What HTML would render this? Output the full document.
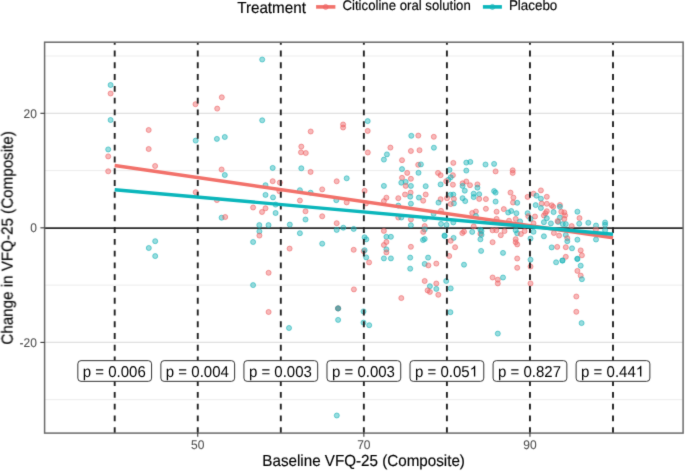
<!DOCTYPE html><html><head><meta charset="utf-8"><style>
html,body{margin:0;padding:0;background:#fff;}
text{stroke:currentColor;stroke-width:0.15px;}
svg{display:block;font-family:"Liberation Sans",sans-serif;text-rendering:geometricPrecision;}
</style></head><body>
<svg width="685" height="471" viewBox="0 0 685 471">
<defs><filter id="soft" filterUnits="userSpaceOnUse" x="0" y="0" width="685" height="471" color-interpolation-filters="sRGB"><feConvolveMatrix order="5" kernelMatrix="0.00000 0.00003 0.00021 0.00003 0.00000 0.00003 0.01133 0.08373 0.01133 0.00003 0.00021 0.08373 0.61869 0.08373 0.00021 0.00003 0.01133 0.08373 0.01133 0.00003 0.00000 0.00003 0.00021 0.00003 0.00000" edgeMode="duplicate" preserveAlpha="true"/></filter></defs>
<g filter="url(#soft)">
<rect x="0" y="0" width="685" height="471" fill="#fff"/>
<line x1="44.6" x2="683.1" y1="399.67" y2="399.67" stroke="#EAEAEA" stroke-width="0.9"/>
<line x1="44.6" x2="683.1" y1="285.12" y2="285.12" stroke="#EAEAEA" stroke-width="0.9"/>
<line x1="44.6" x2="683.1" y1="170.57" y2="170.57" stroke="#EAEAEA" stroke-width="0.9"/>
<line x1="44.6" x2="683.1" y1="56.03" y2="56.03" stroke="#EAEAEA" stroke-width="0.9"/>
<line x1="44.6" x2="683.1" y1="342.40" y2="342.40" stroke="#E0E0E0" stroke-width="1.3"/>
<line x1="44.6" x2="683.1" y1="113.30" y2="113.30" stroke="#E0E0E0" stroke-width="1.3"/>
<line x1="44.6" x2="683.1" y1="228.1" y2="228.1" stroke="#2a2a2a" stroke-width="1.7"/>
<circle cx="110.6" cy="85.0" r="2.5" fill="#1AB3B8" fill-opacity="0.45" stroke="#1AB3B8" stroke-opacity="0.6" stroke-width="1.0"/>
<circle cx="110.6" cy="93.5" r="2.5" fill="#EE6466" fill-opacity="0.45" stroke="#EE6466" stroke-opacity="0.6" stroke-width="1.0"/>
<circle cx="110.6" cy="120.0" r="2.5" fill="#1AB3B8" fill-opacity="0.45" stroke="#1AB3B8" stroke-opacity="0.6" stroke-width="1.0"/>
<circle cx="195.5" cy="104.2" r="2.5" fill="#EE6466" fill-opacity="0.45" stroke="#EE6466" stroke-opacity="0.6" stroke-width="1.0"/>
<circle cx="262.2" cy="59.5" r="2.5" fill="#1AB3B8" fill-opacity="0.45" stroke="#1AB3B8" stroke-opacity="0.6" stroke-width="1.0"/>
<circle cx="221.8" cy="97.3" r="2.5" fill="#EE6466" fill-opacity="0.45" stroke="#EE6466" stroke-opacity="0.6" stroke-width="1.0"/>
<circle cx="217.2" cy="108.6" r="2.5" fill="#EE6466" fill-opacity="0.45" stroke="#EE6466" stroke-opacity="0.6" stroke-width="1.0"/>
<circle cx="262.2" cy="120.3" r="2.5" fill="#1AB3B8" fill-opacity="0.45" stroke="#1AB3B8" stroke-opacity="0.6" stroke-width="1.0"/>
<circle cx="343.1" cy="124.5" r="2.5" fill="#EE6466" fill-opacity="0.45" stroke="#EE6466" stroke-opacity="0.6" stroke-width="1.0"/>
<circle cx="343.1" cy="127.5" r="2.5" fill="#EE6466" fill-opacity="0.45" stroke="#EE6466" stroke-opacity="0.6" stroke-width="1.0"/>
<circle cx="367.7" cy="121.1" r="2.5" fill="#1AB3B8" fill-opacity="0.45" stroke="#1AB3B8" stroke-opacity="0.6" stroke-width="1.0"/>
<circle cx="148.7" cy="130.0" r="2.5" fill="#EE6466" fill-opacity="0.45" stroke="#EE6466" stroke-opacity="0.6" stroke-width="1.0"/>
<circle cx="108.2" cy="149.4" r="2.5" fill="#1AB3B8" fill-opacity="0.45" stroke="#1AB3B8" stroke-opacity="0.6" stroke-width="1.0"/>
<circle cx="108.2" cy="156.4" r="2.5" fill="#EE6466" fill-opacity="0.45" stroke="#EE6466" stroke-opacity="0.6" stroke-width="1.0"/>
<circle cx="148.7" cy="149.0" r="2.5" fill="#EE6466" fill-opacity="0.45" stroke="#EE6466" stroke-opacity="0.6" stroke-width="1.0"/>
<circle cx="155.1" cy="166.0" r="2.5" fill="#EE6466" fill-opacity="0.45" stroke="#EE6466" stroke-opacity="0.6" stroke-width="1.0"/>
<circle cx="108.2" cy="171.3" r="2.5" fill="#EE6466" fill-opacity="0.45" stroke="#EE6466" stroke-opacity="0.6" stroke-width="1.0"/>
<circle cx="155.2" cy="241.2" r="2.5" fill="#1AB3B8" fill-opacity="0.45" stroke="#1AB3B8" stroke-opacity="0.6" stroke-width="1.0"/>
<circle cx="148.8" cy="248.0" r="2.5" fill="#1AB3B8" fill-opacity="0.45" stroke="#1AB3B8" stroke-opacity="0.6" stroke-width="1.0"/>
<circle cx="155.2" cy="256.1" r="2.5" fill="#1AB3B8" fill-opacity="0.45" stroke="#1AB3B8" stroke-opacity="0.6" stroke-width="1.0"/>
<circle cx="195.7" cy="140.6" r="2.5" fill="#1AB3B8" fill-opacity="0.45" stroke="#1AB3B8" stroke-opacity="0.6" stroke-width="1.0"/>
<circle cx="216.9" cy="138.9" r="2.5" fill="#1AB3B8" fill-opacity="0.45" stroke="#1AB3B8" stroke-opacity="0.6" stroke-width="1.0"/>
<circle cx="224.8" cy="137.0" r="2.5" fill="#1AB3B8" fill-opacity="0.45" stroke="#1AB3B8" stroke-opacity="0.6" stroke-width="1.0"/>
<circle cx="221.6" cy="169.5" r="2.5" fill="#EE6466" fill-opacity="0.45" stroke="#EE6466" stroke-opacity="0.6" stroke-width="1.0"/>
<circle cx="224.8" cy="175.0" r="2.5" fill="#1AB3B8" fill-opacity="0.45" stroke="#1AB3B8" stroke-opacity="0.6" stroke-width="1.0"/>
<circle cx="195.7" cy="192.2" r="2.5" fill="#EE6466" fill-opacity="0.45" stroke="#EE6466" stroke-opacity="0.6" stroke-width="1.0"/>
<circle cx="216.9" cy="200.1" r="2.5" fill="#EE6466" fill-opacity="0.45" stroke="#EE6466" stroke-opacity="0.6" stroke-width="1.0"/>
<circle cx="221.6" cy="217.7" r="2.5" fill="#1AB3B8" fill-opacity="0.45" stroke="#1AB3B8" stroke-opacity="0.6" stroke-width="1.0"/>
<circle cx="225.2" cy="217.0" r="2.5" fill="#EE6466" fill-opacity="0.45" stroke="#EE6466" stroke-opacity="0.6" stroke-width="1.0"/>
<circle cx="272.7" cy="167.9" r="2.5" fill="#1AB3B8" fill-opacity="0.45" stroke="#1AB3B8" stroke-opacity="0.6" stroke-width="1.0"/>
<circle cx="272.7" cy="181.2" r="2.5" fill="#EE6466" fill-opacity="0.45" stroke="#EE6466" stroke-opacity="0.6" stroke-width="1.0"/>
<circle cx="279.8" cy="182.6" r="2.5" fill="#EE6466" fill-opacity="0.45" stroke="#EE6466" stroke-opacity="0.6" stroke-width="1.0"/>
<circle cx="265.5" cy="185.2" r="2.5" fill="#1AB3B8" fill-opacity="0.45" stroke="#1AB3B8" stroke-opacity="0.6" stroke-width="1.0"/>
<circle cx="279.4" cy="191.2" r="2.5" fill="#EE6466" fill-opacity="0.45" stroke="#EE6466" stroke-opacity="0.6" stroke-width="1.0"/>
<circle cx="265.5" cy="194.9" r="2.5" fill="#1AB3B8" fill-opacity="0.45" stroke="#1AB3B8" stroke-opacity="0.6" stroke-width="1.0"/>
<circle cx="273.0" cy="197.4" r="2.5" fill="#1AB3B8" fill-opacity="0.45" stroke="#1AB3B8" stroke-opacity="0.6" stroke-width="1.0"/>
<circle cx="275.6" cy="204.6" r="2.5" fill="#1AB3B8" fill-opacity="0.45" stroke="#1AB3B8" stroke-opacity="0.6" stroke-width="1.0"/>
<circle cx="253.1" cy="207.5" r="2.5" fill="#EE6466" fill-opacity="0.45" stroke="#EE6466" stroke-opacity="0.6" stroke-width="1.0"/>
<circle cx="265.5" cy="208.3" r="2.5" fill="#EE6466" fill-opacity="0.45" stroke="#EE6466" stroke-opacity="0.6" stroke-width="1.0"/>
<circle cx="262.0" cy="212.0" r="2.5" fill="#EE6466" fill-opacity="0.45" stroke="#EE6466" stroke-opacity="0.6" stroke-width="1.0"/>
<circle cx="275.6" cy="213.0" r="2.5" fill="#1AB3B8" fill-opacity="0.45" stroke="#1AB3B8" stroke-opacity="0.6" stroke-width="1.0"/>
<circle cx="259.3" cy="225.1" r="2.5" fill="#1AB3B8" fill-opacity="0.45" stroke="#1AB3B8" stroke-opacity="0.6" stroke-width="1.0"/>
<circle cx="268.5" cy="225.1" r="2.5" fill="#1AB3B8" fill-opacity="0.45" stroke="#1AB3B8" stroke-opacity="0.6" stroke-width="1.0"/>
<circle cx="259.4" cy="231.4" r="2.5" fill="#1AB3B8" fill-opacity="0.45" stroke="#1AB3B8" stroke-opacity="0.6" stroke-width="1.0"/>
<circle cx="259.4" cy="235.6" r="2.5" fill="#EE6466" fill-opacity="0.45" stroke="#EE6466" stroke-opacity="0.6" stroke-width="1.0"/>
<circle cx="253.1" cy="242.0" r="2.5" fill="#1AB3B8" fill-opacity="0.45" stroke="#1AB3B8" stroke-opacity="0.6" stroke-width="1.0"/>
<circle cx="268.6" cy="272.8" r="2.5" fill="#EE6466" fill-opacity="0.45" stroke="#EE6466" stroke-opacity="0.6" stroke-width="1.0"/>
<circle cx="253.1" cy="285.1" r="2.5" fill="#1AB3B8" fill-opacity="0.45" stroke="#1AB3B8" stroke-opacity="0.6" stroke-width="1.0"/>
<circle cx="268.6" cy="312.0" r="2.5" fill="#EE6466" fill-opacity="0.45" stroke="#EE6466" stroke-opacity="0.6" stroke-width="1.0"/>
<circle cx="310.7" cy="131.5" r="2.5" fill="#EE6466" fill-opacity="0.45" stroke="#EE6466" stroke-opacity="0.6" stroke-width="1.0"/>
<circle cx="301.3" cy="146.6" r="2.5" fill="#EE6466" fill-opacity="0.45" stroke="#EE6466" stroke-opacity="0.6" stroke-width="1.0"/>
<circle cx="301.0" cy="152.3" r="2.5" fill="#EE6466" fill-opacity="0.45" stroke="#EE6466" stroke-opacity="0.6" stroke-width="1.0"/>
<circle cx="305.8" cy="153.0" r="2.5" fill="#EE6466" fill-opacity="0.45" stroke="#EE6466" stroke-opacity="0.6" stroke-width="1.0"/>
<circle cx="301.3" cy="168.3" r="2.5" fill="#1AB3B8" fill-opacity="0.45" stroke="#1AB3B8" stroke-opacity="0.6" stroke-width="1.0"/>
<circle cx="310.6" cy="171.9" r="2.5" fill="#EE6466" fill-opacity="0.45" stroke="#EE6466" stroke-opacity="0.6" stroke-width="1.0"/>
<circle cx="346.7" cy="178.3" r="2.5" fill="#1AB3B8" fill-opacity="0.45" stroke="#1AB3B8" stroke-opacity="0.6" stroke-width="1.0"/>
<circle cx="336.7" cy="181.3" r="2.5" fill="#EE6466" fill-opacity="0.45" stroke="#EE6466" stroke-opacity="0.6" stroke-width="1.0"/>
<circle cx="322.2" cy="189.4" r="2.5" fill="#EE6466" fill-opacity="0.45" stroke="#EE6466" stroke-opacity="0.6" stroke-width="1.0"/>
<circle cx="299.9" cy="190.2" r="2.5" fill="#1AB3B8" fill-opacity="0.45" stroke="#1AB3B8" stroke-opacity="0.6" stroke-width="1.0"/>
<circle cx="310.6" cy="192.7" r="2.5" fill="#1AB3B8" fill-opacity="0.45" stroke="#1AB3B8" stroke-opacity="0.6" stroke-width="1.0"/>
<circle cx="299.9" cy="200.5" r="2.5" fill="#EE6466" fill-opacity="0.45" stroke="#EE6466" stroke-opacity="0.6" stroke-width="1.0"/>
<circle cx="336.3" cy="200.2" r="2.5" fill="#1AB3B8" fill-opacity="0.45" stroke="#1AB3B8" stroke-opacity="0.6" stroke-width="1.0"/>
<circle cx="346.7" cy="202.4" r="2.5" fill="#EE6466" fill-opacity="0.45" stroke="#EE6466" stroke-opacity="0.6" stroke-width="1.0"/>
<circle cx="305.5" cy="211.3" r="2.5" fill="#EE6466" fill-opacity="0.45" stroke="#EE6466" stroke-opacity="0.6" stroke-width="1.0"/>
<circle cx="322.2" cy="216.3" r="2.5" fill="#EE6466" fill-opacity="0.45" stroke="#EE6466" stroke-opacity="0.6" stroke-width="1.0"/>
<circle cx="305.5" cy="219.5" r="2.5" fill="#1AB3B8" fill-opacity="0.45" stroke="#1AB3B8" stroke-opacity="0.6" stroke-width="1.0"/>
<circle cx="289.8" cy="224.6" r="2.5" fill="#1AB3B8" fill-opacity="0.45" stroke="#1AB3B8" stroke-opacity="0.6" stroke-width="1.0"/>
<circle cx="336.7" cy="223.2" r="2.5" fill="#EE6466" fill-opacity="0.45" stroke="#EE6466" stroke-opacity="0.6" stroke-width="1.0"/>
<circle cx="336.7" cy="229.9" r="2.5" fill="#1AB3B8" fill-opacity="0.45" stroke="#1AB3B8" stroke-opacity="0.6" stroke-width="1.0"/>
<circle cx="343.3" cy="227.7" r="2.5" fill="#1AB3B8" fill-opacity="0.45" stroke="#1AB3B8" stroke-opacity="0.6" stroke-width="1.0"/>
<circle cx="299.9" cy="233.2" r="2.5" fill="#1AB3B8" fill-opacity="0.45" stroke="#1AB3B8" stroke-opacity="0.6" stroke-width="1.0"/>
<circle cx="322.2" cy="243.7" r="2.5" fill="#1AB3B8" fill-opacity="0.45" stroke="#1AB3B8" stroke-opacity="0.6" stroke-width="1.0"/>
<circle cx="289.6" cy="248.6" r="2.5" fill="#EE6466" fill-opacity="0.45" stroke="#EE6466" stroke-opacity="0.6" stroke-width="1.0"/>
<circle cx="338.1" cy="308.4" r="2.5" fill="#EE6466" fill-opacity="0.45" stroke="#EE6466" stroke-opacity="0.6" stroke-width="1.0"/>
<circle cx="338.1" cy="308.4" r="2.5" fill="#1AB3B8" fill-opacity="0.45" stroke="#1AB3B8" stroke-opacity="0.6" stroke-width="1.0"/>
<circle cx="338.1" cy="308.4" r="2.5" fill="#EE6466" fill-opacity="0.45" stroke="#EE6466" stroke-opacity="0.6" stroke-width="1.0"/>
<circle cx="338.1" cy="308.4" r="2.5" fill="#1AB3B8" fill-opacity="0.45" stroke="#1AB3B8" stroke-opacity="0.6" stroke-width="1.0"/>
<circle cx="338.1" cy="319.9" r="2.5" fill="#1AB3B8" fill-opacity="0.45" stroke="#1AB3B8" stroke-opacity="0.6" stroke-width="1.0"/>
<circle cx="289.0" cy="328.0" r="2.5" fill="#1AB3B8" fill-opacity="0.45" stroke="#1AB3B8" stroke-opacity="0.6" stroke-width="1.0"/>
<circle cx="336.8" cy="415.5" r="2.5" fill="#1AB3B8" fill-opacity="0.45" stroke="#1AB3B8" stroke-opacity="0.6" stroke-width="1.0"/>
<circle cx="367.7" cy="130.9" r="2.5" fill="#EE6466" fill-opacity="0.45" stroke="#EE6466" stroke-opacity="0.6" stroke-width="1.0"/>
<circle cx="411.3" cy="135.8" r="2.5" fill="#1AB3B8" fill-opacity="0.45" stroke="#1AB3B8" stroke-opacity="0.6" stroke-width="1.0"/>
<circle cx="418.3" cy="135.6" r="2.5" fill="#EE6466" fill-opacity="0.45" stroke="#EE6466" stroke-opacity="0.6" stroke-width="1.0"/>
<circle cx="433.8" cy="136.8" r="2.5" fill="#EE6466" fill-opacity="0.45" stroke="#EE6466" stroke-opacity="0.6" stroke-width="1.0"/>
<circle cx="390.4" cy="147.6" r="2.5" fill="#EE6466" fill-opacity="0.45" stroke="#EE6466" stroke-opacity="0.6" stroke-width="1.0"/>
<circle cx="410.9" cy="151.0" r="2.5" fill="#EE6466" fill-opacity="0.45" stroke="#EE6466" stroke-opacity="0.6" stroke-width="1.0"/>
<circle cx="419.5" cy="150.2" r="2.5" fill="#EE6466" fill-opacity="0.45" stroke="#EE6466" stroke-opacity="0.6" stroke-width="1.0"/>
<circle cx="367.8" cy="152.5" r="2.5" fill="#EE6466" fill-opacity="0.45" stroke="#EE6466" stroke-opacity="0.6" stroke-width="1.0"/>
<circle cx="386.9" cy="154.4" r="2.5" fill="#1AB3B8" fill-opacity="0.45" stroke="#1AB3B8" stroke-opacity="0.6" stroke-width="1.0"/>
<circle cx="383.9" cy="159.6" r="2.5" fill="#1AB3B8" fill-opacity="0.45" stroke="#1AB3B8" stroke-opacity="0.6" stroke-width="1.0"/>
<circle cx="402.0" cy="160.2" r="2.5" fill="#EE6466" fill-opacity="0.45" stroke="#EE6466" stroke-opacity="0.6" stroke-width="1.0"/>
<circle cx="418.2" cy="164.8" r="2.5" fill="#EE6466" fill-opacity="0.45" stroke="#EE6466" stroke-opacity="0.6" stroke-width="1.0"/>
<circle cx="402.0" cy="169.1" r="2.5" fill="#1AB3B8" fill-opacity="0.45" stroke="#1AB3B8" stroke-opacity="0.6" stroke-width="1.0"/>
<circle cx="407.2" cy="172.9" r="2.5" fill="#EE6466" fill-opacity="0.45" stroke="#EE6466" stroke-opacity="0.6" stroke-width="1.0"/>
<circle cx="418.5" cy="172.8" r="2.5" fill="#1AB3B8" fill-opacity="0.45" stroke="#1AB3B8" stroke-opacity="0.6" stroke-width="1.0"/>
<circle cx="402.0" cy="177.8" r="2.5" fill="#EE6466" fill-opacity="0.45" stroke="#EE6466" stroke-opacity="0.6" stroke-width="1.0"/>
<circle cx="410.9" cy="178.8" r="2.5" fill="#EE6466" fill-opacity="0.45" stroke="#EE6466" stroke-opacity="0.6" stroke-width="1.0"/>
<circle cx="401.3" cy="182.7" r="2.5" fill="#1AB3B8" fill-opacity="0.45" stroke="#1AB3B8" stroke-opacity="0.6" stroke-width="1.0"/>
<circle cx="405.7" cy="181.9" r="2.5" fill="#1AB3B8" fill-opacity="0.45" stroke="#1AB3B8" stroke-opacity="0.6" stroke-width="1.0"/>
<circle cx="405.7" cy="185.9" r="2.5" fill="#EE6466" fill-opacity="0.45" stroke="#EE6466" stroke-opacity="0.6" stroke-width="1.0"/>
<circle cx="410.9" cy="185.9" r="2.5" fill="#1AB3B8" fill-opacity="0.45" stroke="#1AB3B8" stroke-opacity="0.6" stroke-width="1.0"/>
<circle cx="383.9" cy="185.9" r="2.5" fill="#1AB3B8" fill-opacity="0.45" stroke="#1AB3B8" stroke-opacity="0.6" stroke-width="1.0"/>
<circle cx="364.6" cy="190.8" r="2.5" fill="#EE6466" fill-opacity="0.45" stroke="#EE6466" stroke-opacity="0.6" stroke-width="1.0"/>
<circle cx="410.6" cy="192.6" r="2.5" fill="#EE6466" fill-opacity="0.45" stroke="#EE6466" stroke-opacity="0.6" stroke-width="1.0"/>
<circle cx="405.0" cy="194.5" r="2.5" fill="#EE6466" fill-opacity="0.45" stroke="#EE6466" stroke-opacity="0.6" stroke-width="1.0"/>
<circle cx="386.4" cy="197.7" r="2.5" fill="#EE6466" fill-opacity="0.45" stroke="#EE6466" stroke-opacity="0.6" stroke-width="1.0"/>
<circle cx="383.9" cy="201.1" r="2.5" fill="#EE6466" fill-opacity="0.45" stroke="#EE6466" stroke-opacity="0.6" stroke-width="1.0"/>
<circle cx="398.3" cy="198.2" r="2.5" fill="#EE6466" fill-opacity="0.45" stroke="#EE6466" stroke-opacity="0.6" stroke-width="1.0"/>
<circle cx="410.2" cy="196.7" r="2.5" fill="#1AB3B8" fill-opacity="0.45" stroke="#1AB3B8" stroke-opacity="0.6" stroke-width="1.0"/>
<circle cx="410.9" cy="203.7" r="2.5" fill="#1AB3B8" fill-opacity="0.45" stroke="#1AB3B8" stroke-opacity="0.6" stroke-width="1.0"/>
<circle cx="418.9" cy="197.6" r="2.5" fill="#1AB3B8" fill-opacity="0.45" stroke="#1AB3B8" stroke-opacity="0.6" stroke-width="1.0"/>
<circle cx="366.0" cy="203.4" r="2.5" fill="#EE6466" fill-opacity="0.45" stroke="#EE6466" stroke-opacity="0.6" stroke-width="1.0"/>
<circle cx="398.3" cy="205.6" r="2.5" fill="#1AB3B8" fill-opacity="0.45" stroke="#1AB3B8" stroke-opacity="0.6" stroke-width="1.0"/>
<circle cx="398.3" cy="217.5" r="2.5" fill="#EE6466" fill-opacity="0.45" stroke="#EE6466" stroke-opacity="0.6" stroke-width="1.0"/>
<circle cx="401.3" cy="217.5" r="2.5" fill="#1AB3B8" fill-opacity="0.45" stroke="#1AB3B8" stroke-opacity="0.6" stroke-width="1.0"/>
<circle cx="410.9" cy="219.4" r="2.5" fill="#EE6466" fill-opacity="0.45" stroke="#EE6466" stroke-opacity="0.6" stroke-width="1.0"/>
<circle cx="410.9" cy="225.2" r="2.5" fill="#1AB3B8" fill-opacity="0.45" stroke="#1AB3B8" stroke-opacity="0.6" stroke-width="1.0"/>
<circle cx="353.7" cy="228.9" r="2.5" fill="#1AB3B8" fill-opacity="0.45" stroke="#1AB3B8" stroke-opacity="0.6" stroke-width="1.0"/>
<circle cx="383.9" cy="230.9" r="2.5" fill="#EE6466" fill-opacity="0.45" stroke="#EE6466" stroke-opacity="0.6" stroke-width="1.0"/>
<circle cx="364.6" cy="237.3" r="2.5" fill="#1AB3B8" fill-opacity="0.45" stroke="#1AB3B8" stroke-opacity="0.6" stroke-width="1.0"/>
<circle cx="366.3" cy="239.3" r="2.5" fill="#1AB3B8" fill-opacity="0.45" stroke="#1AB3B8" stroke-opacity="0.6" stroke-width="1.0"/>
<circle cx="386.4" cy="236.8" r="2.5" fill="#1AB3B8" fill-opacity="0.45" stroke="#1AB3B8" stroke-opacity="0.6" stroke-width="1.0"/>
<circle cx="390.9" cy="236.8" r="2.5" fill="#1AB3B8" fill-opacity="0.45" stroke="#1AB3B8" stroke-opacity="0.6" stroke-width="1.0"/>
<circle cx="386.4" cy="242.0" r="2.5" fill="#EE6466" fill-opacity="0.45" stroke="#EE6466" stroke-opacity="0.6" stroke-width="1.0"/>
<circle cx="383.9" cy="245.0" r="2.5" fill="#EE6466" fill-opacity="0.45" stroke="#EE6466" stroke-opacity="0.6" stroke-width="1.0"/>
<circle cx="353.7" cy="249.8" r="2.5" fill="#EE6466" fill-opacity="0.45" stroke="#EE6466" stroke-opacity="0.6" stroke-width="1.0"/>
<circle cx="363.7" cy="251.2" r="2.5" fill="#EE6466" fill-opacity="0.45" stroke="#EE6466" stroke-opacity="0.6" stroke-width="1.0"/>
<circle cx="364.6" cy="250.2" r="2.5" fill="#1AB3B8" fill-opacity="0.45" stroke="#1AB3B8" stroke-opacity="0.6" stroke-width="1.0"/>
<circle cx="386.4" cy="249.4" r="2.5" fill="#1AB3B8" fill-opacity="0.45" stroke="#1AB3B8" stroke-opacity="0.6" stroke-width="1.0"/>
<circle cx="386.4" cy="252.4" r="2.5" fill="#EE6466" fill-opacity="0.45" stroke="#EE6466" stroke-opacity="0.6" stroke-width="1.0"/>
<circle cx="410.9" cy="246.8" r="2.5" fill="#EE6466" fill-opacity="0.45" stroke="#EE6466" stroke-opacity="0.6" stroke-width="1.0"/>
<circle cx="366.2" cy="257.4" r="2.5" fill="#1AB3B8" fill-opacity="0.45" stroke="#1AB3B8" stroke-opacity="0.6" stroke-width="1.0"/>
<circle cx="383.9" cy="258.4" r="2.5" fill="#1AB3B8" fill-opacity="0.45" stroke="#1AB3B8" stroke-opacity="0.6" stroke-width="1.0"/>
<circle cx="390.9" cy="258.4" r="2.5" fill="#1AB3B8" fill-opacity="0.45" stroke="#1AB3B8" stroke-opacity="0.6" stroke-width="1.0"/>
<circle cx="410.2" cy="257.6" r="2.5" fill="#1AB3B8" fill-opacity="0.45" stroke="#1AB3B8" stroke-opacity="0.6" stroke-width="1.0"/>
<circle cx="410.2" cy="268.7" r="2.5" fill="#1AB3B8" fill-opacity="0.45" stroke="#1AB3B8" stroke-opacity="0.6" stroke-width="1.0"/>
<circle cx="369.1" cy="262.4" r="2.5" fill="#EE6466" fill-opacity="0.45" stroke="#EE6466" stroke-opacity="0.6" stroke-width="1.0"/>
<circle cx="353.9" cy="289.4" r="2.5" fill="#EE6466" fill-opacity="0.45" stroke="#EE6466" stroke-opacity="0.6" stroke-width="1.0"/>
<circle cx="401.3" cy="298.1" r="2.5" fill="#EE6466" fill-opacity="0.45" stroke="#EE6466" stroke-opacity="0.6" stroke-width="1.0"/>
<circle cx="363.5" cy="311.4" r="2.5" fill="#1AB3B8" fill-opacity="0.45" stroke="#1AB3B8" stroke-opacity="0.6" stroke-width="1.0"/>
<circle cx="363.5" cy="322.6" r="2.5" fill="#1AB3B8" fill-opacity="0.45" stroke="#1AB3B8" stroke-opacity="0.6" stroke-width="1.0"/>
<circle cx="369.2" cy="325.2" r="2.5" fill="#1AB3B8" fill-opacity="0.45" stroke="#1AB3B8" stroke-opacity="0.6" stroke-width="1.0"/>
<circle cx="433.9" cy="147.7" r="2.5" fill="#1AB3B8" fill-opacity="0.45" stroke="#1AB3B8" stroke-opacity="0.6" stroke-width="1.0"/>
<circle cx="420.9" cy="164.4" r="2.5" fill="#1AB3B8" fill-opacity="0.45" stroke="#1AB3B8" stroke-opacity="0.6" stroke-width="1.0"/>
<circle cx="438.0" cy="172.9" r="2.5" fill="#EE6466" fill-opacity="0.45" stroke="#EE6466" stroke-opacity="0.6" stroke-width="1.0"/>
<circle cx="440.6" cy="175.2" r="2.5" fill="#EE6466" fill-opacity="0.45" stroke="#EE6466" stroke-opacity="0.6" stroke-width="1.0"/>
<circle cx="425.7" cy="186.2" r="2.5" fill="#1AB3B8" fill-opacity="0.45" stroke="#1AB3B8" stroke-opacity="0.6" stroke-width="1.0"/>
<circle cx="440.6" cy="184.4" r="2.5" fill="#1AB3B8" fill-opacity="0.45" stroke="#1AB3B8" stroke-opacity="0.6" stroke-width="1.0"/>
<circle cx="425.7" cy="194.5" r="2.5" fill="#EE6466" fill-opacity="0.45" stroke="#EE6466" stroke-opacity="0.6" stroke-width="1.0"/>
<circle cx="453.3" cy="162.9" r="2.5" fill="#EE6466" fill-opacity="0.45" stroke="#EE6466" stroke-opacity="0.6" stroke-width="1.0"/>
<circle cx="466.3" cy="162.6" r="2.5" fill="#1AB3B8" fill-opacity="0.45" stroke="#1AB3B8" stroke-opacity="0.6" stroke-width="1.0"/>
<circle cx="470.3" cy="161.9" r="2.5" fill="#1AB3B8" fill-opacity="0.45" stroke="#1AB3B8" stroke-opacity="0.6" stroke-width="1.0"/>
<circle cx="449.5" cy="169.9" r="2.5" fill="#1AB3B8" fill-opacity="0.45" stroke="#1AB3B8" stroke-opacity="0.6" stroke-width="1.0"/>
<circle cx="466.3" cy="170.6" r="2.5" fill="#1AB3B8" fill-opacity="0.45" stroke="#1AB3B8" stroke-opacity="0.6" stroke-width="1.0"/>
<circle cx="452.9" cy="175.2" r="2.5" fill="#EE6466" fill-opacity="0.45" stroke="#EE6466" stroke-opacity="0.6" stroke-width="1.0"/>
<circle cx="450.7" cy="177.3" r="2.5" fill="#1AB3B8" fill-opacity="0.45" stroke="#1AB3B8" stroke-opacity="0.6" stroke-width="1.0"/>
<circle cx="448.4" cy="179.7" r="2.5" fill="#1AB3B8" fill-opacity="0.45" stroke="#1AB3B8" stroke-opacity="0.6" stroke-width="1.0"/>
<circle cx="446.2" cy="181.2" r="2.5" fill="#EE6466" fill-opacity="0.45" stroke="#EE6466" stroke-opacity="0.6" stroke-width="1.0"/>
<circle cx="452.9" cy="184.7" r="2.5" fill="#EE6466" fill-opacity="0.45" stroke="#EE6466" stroke-opacity="0.6" stroke-width="1.0"/>
<circle cx="462.6" cy="183.3" r="2.5" fill="#EE6466" fill-opacity="0.45" stroke="#EE6466" stroke-opacity="0.6" stroke-width="1.0"/>
<circle cx="466.3" cy="181.5" r="2.5" fill="#EE6466" fill-opacity="0.45" stroke="#EE6466" stroke-opacity="0.6" stroke-width="1.0"/>
<circle cx="462.6" cy="185.9" r="2.5" fill="#1AB3B8" fill-opacity="0.45" stroke="#1AB3B8" stroke-opacity="0.6" stroke-width="1.0"/>
<circle cx="470.0" cy="185.2" r="2.5" fill="#EE6466" fill-opacity="0.45" stroke="#EE6466" stroke-opacity="0.6" stroke-width="1.0"/>
<circle cx="477.4" cy="184.4" r="2.5" fill="#EE6466" fill-opacity="0.45" stroke="#EE6466" stroke-opacity="0.6" stroke-width="1.0"/>
<circle cx="477.4" cy="187.7" r="2.5" fill="#1AB3B8" fill-opacity="0.45" stroke="#1AB3B8" stroke-opacity="0.6" stroke-width="1.0"/>
<circle cx="464.8" cy="190.7" r="2.5" fill="#1AB3B8" fill-opacity="0.45" stroke="#1AB3B8" stroke-opacity="0.6" stroke-width="1.0"/>
<circle cx="473.7" cy="193.7" r="2.5" fill="#1AB3B8" fill-opacity="0.45" stroke="#1AB3B8" stroke-opacity="0.6" stroke-width="1.0"/>
<circle cx="479.2" cy="194.2" r="2.5" fill="#1AB3B8" fill-opacity="0.45" stroke="#1AB3B8" stroke-opacity="0.6" stroke-width="1.0"/>
<circle cx="453.3" cy="194.6" r="2.5" fill="#1AB3B8" fill-opacity="0.45" stroke="#1AB3B8" stroke-opacity="0.6" stroke-width="1.0"/>
<circle cx="450.5" cy="194.8" r="2.5" fill="#1AB3B8" fill-opacity="0.45" stroke="#1AB3B8" stroke-opacity="0.6" stroke-width="1.0"/>
<circle cx="423.2" cy="200.7" r="2.5" fill="#EE6466" fill-opacity="0.45" stroke="#EE6466" stroke-opacity="0.6" stroke-width="1.0"/>
<circle cx="440.6" cy="199.2" r="2.5" fill="#EE6466" fill-opacity="0.45" stroke="#EE6466" stroke-opacity="0.6" stroke-width="1.0"/>
<circle cx="438.5" cy="202.6" r="2.5" fill="#1AB3B8" fill-opacity="0.45" stroke="#1AB3B8" stroke-opacity="0.6" stroke-width="1.0"/>
<circle cx="447.0" cy="198.2" r="2.5" fill="#EE6466" fill-opacity="0.45" stroke="#EE6466" stroke-opacity="0.6" stroke-width="1.0"/>
<circle cx="453.9" cy="198.9" r="2.5" fill="#EE6466" fill-opacity="0.45" stroke="#EE6466" stroke-opacity="0.6" stroke-width="1.0"/>
<circle cx="453.9" cy="203.4" r="2.5" fill="#1AB3B8" fill-opacity="0.45" stroke="#1AB3B8" stroke-opacity="0.6" stroke-width="1.0"/>
<circle cx="450.7" cy="204.1" r="2.5" fill="#EE6466" fill-opacity="0.45" stroke="#EE6466" stroke-opacity="0.6" stroke-width="1.0"/>
<circle cx="462.6" cy="198.2" r="2.5" fill="#1AB3B8" fill-opacity="0.45" stroke="#1AB3B8" stroke-opacity="0.6" stroke-width="1.0"/>
<circle cx="465.2" cy="201.1" r="2.5" fill="#1AB3B8" fill-opacity="0.45" stroke="#1AB3B8" stroke-opacity="0.6" stroke-width="1.0"/>
<circle cx="473.7" cy="197.1" r="2.5" fill="#1AB3B8" fill-opacity="0.45" stroke="#1AB3B8" stroke-opacity="0.6" stroke-width="1.0"/>
<circle cx="479.2" cy="198.9" r="2.5" fill="#EE6466" fill-opacity="0.45" stroke="#EE6466" stroke-opacity="0.6" stroke-width="1.0"/>
<circle cx="441.0" cy="210.8" r="2.5" fill="#EE6466" fill-opacity="0.45" stroke="#EE6466" stroke-opacity="0.6" stroke-width="1.0"/>
<circle cx="433.6" cy="213.8" r="2.5" fill="#1AB3B8" fill-opacity="0.45" stroke="#1AB3B8" stroke-opacity="0.6" stroke-width="1.0"/>
<circle cx="424.7" cy="219.0" r="2.5" fill="#1AB3B8" fill-opacity="0.45" stroke="#1AB3B8" stroke-opacity="0.6" stroke-width="1.0"/>
<circle cx="472.2" cy="213.0" r="2.5" fill="#EE6466" fill-opacity="0.45" stroke="#EE6466" stroke-opacity="0.6" stroke-width="1.0"/>
<circle cx="475.9" cy="211.5" r="2.5" fill="#EE6466" fill-opacity="0.45" stroke="#EE6466" stroke-opacity="0.6" stroke-width="1.0"/>
<circle cx="475.9" cy="216.0" r="2.5" fill="#1AB3B8" fill-opacity="0.45" stroke="#1AB3B8" stroke-opacity="0.6" stroke-width="1.0"/>
<circle cx="441.0" cy="223.9" r="2.5" fill="#1AB3B8" fill-opacity="0.45" stroke="#1AB3B8" stroke-opacity="0.6" stroke-width="1.0"/>
<circle cx="446.5" cy="224.9" r="2.5" fill="#1AB3B8" fill-opacity="0.45" stroke="#1AB3B8" stroke-opacity="0.6" stroke-width="1.0"/>
<circle cx="453.3" cy="222.4" r="2.5" fill="#1AB3B8" fill-opacity="0.45" stroke="#1AB3B8" stroke-opacity="0.6" stroke-width="1.0"/>
<circle cx="424.7" cy="226.1" r="2.5" fill="#EE6466" fill-opacity="0.45" stroke="#EE6466" stroke-opacity="0.6" stroke-width="1.0"/>
<circle cx="424.7" cy="229.4" r="2.5" fill="#1AB3B8" fill-opacity="0.45" stroke="#1AB3B8" stroke-opacity="0.6" stroke-width="1.0"/>
<circle cx="423.2" cy="231.9" r="2.5" fill="#EE6466" fill-opacity="0.45" stroke="#EE6466" stroke-opacity="0.6" stroke-width="1.0"/>
<circle cx="464.0" cy="231.6" r="2.5" fill="#EE6466" fill-opacity="0.45" stroke="#EE6466" stroke-opacity="0.6" stroke-width="1.0"/>
<circle cx="462.3" cy="233.1" r="2.5" fill="#EE6466" fill-opacity="0.45" stroke="#EE6466" stroke-opacity="0.6" stroke-width="1.0"/>
<circle cx="472.2" cy="231.9" r="2.5" fill="#1AB3B8" fill-opacity="0.45" stroke="#1AB3B8" stroke-opacity="0.6" stroke-width="1.0"/>
<circle cx="473.7" cy="226.4" r="2.5" fill="#EE6466" fill-opacity="0.45" stroke="#EE6466" stroke-opacity="0.6" stroke-width="1.0"/>
<circle cx="480.4" cy="229.8" r="2.5" fill="#1AB3B8" fill-opacity="0.45" stroke="#1AB3B8" stroke-opacity="0.6" stroke-width="1.0"/>
<circle cx="480.4" cy="233.8" r="2.5" fill="#EE6466" fill-opacity="0.45" stroke="#EE6466" stroke-opacity="0.6" stroke-width="1.0"/>
<circle cx="480.4" cy="239.3" r="2.5" fill="#1AB3B8" fill-opacity="0.45" stroke="#1AB3B8" stroke-opacity="0.6" stroke-width="1.0"/>
<circle cx="423.0" cy="240.0" r="2.5" fill="#1AB3B8" fill-opacity="0.45" stroke="#1AB3B8" stroke-opacity="0.6" stroke-width="1.0"/>
<circle cx="444.5" cy="235.5" r="2.5" fill="#1AB3B8" fill-opacity="0.45" stroke="#1AB3B8" stroke-opacity="0.6" stroke-width="1.0"/>
<circle cx="444.7" cy="236.1" r="2.5" fill="#1AB3B8" fill-opacity="0.45" stroke="#1AB3B8" stroke-opacity="0.6" stroke-width="1.0"/>
<circle cx="453.6" cy="237.9" r="2.5" fill="#1AB3B8" fill-opacity="0.45" stroke="#1AB3B8" stroke-opacity="0.6" stroke-width="1.0"/>
<circle cx="424.7" cy="239.0" r="2.5" fill="#1AB3B8" fill-opacity="0.45" stroke="#1AB3B8" stroke-opacity="0.6" stroke-width="1.0"/>
<circle cx="450.7" cy="240.8" r="2.5" fill="#EE6466" fill-opacity="0.45" stroke="#EE6466" stroke-opacity="0.6" stroke-width="1.0"/>
<circle cx="455.1" cy="247.2" r="2.5" fill="#EE6466" fill-opacity="0.45" stroke="#EE6466" stroke-opacity="0.6" stroke-width="1.0"/>
<circle cx="481.1" cy="250.9" r="2.5" fill="#1AB3B8" fill-opacity="0.45" stroke="#1AB3B8" stroke-opacity="0.6" stroke-width="1.0"/>
<circle cx="449.2" cy="256.0" r="2.5" fill="#EE6466" fill-opacity="0.45" stroke="#EE6466" stroke-opacity="0.6" stroke-width="1.0"/>
<circle cx="428.1" cy="257.6" r="2.5" fill="#1AB3B8" fill-opacity="0.45" stroke="#1AB3B8" stroke-opacity="0.6" stroke-width="1.0"/>
<circle cx="424.7" cy="263.9" r="2.5" fill="#1AB3B8" fill-opacity="0.45" stroke="#1AB3B8" stroke-opacity="0.6" stroke-width="1.0"/>
<circle cx="428.4" cy="265.4" r="2.5" fill="#EE6466" fill-opacity="0.45" stroke="#EE6466" stroke-opacity="0.6" stroke-width="1.0"/>
<circle cx="436.3" cy="263.6" r="2.5" fill="#EE6466" fill-opacity="0.45" stroke="#EE6466" stroke-opacity="0.6" stroke-width="1.0"/>
<circle cx="464.0" cy="264.7" r="2.5" fill="#1AB3B8" fill-opacity="0.45" stroke="#1AB3B8" stroke-opacity="0.6" stroke-width="1.0"/>
<circle cx="424.7" cy="281.0" r="2.5" fill="#EE6466" fill-opacity="0.45" stroke="#EE6466" stroke-opacity="0.6" stroke-width="1.0"/>
<circle cx="436.3" cy="283.5" r="2.5" fill="#EE6466" fill-opacity="0.45" stroke="#EE6466" stroke-opacity="0.6" stroke-width="1.0"/>
<circle cx="446.2" cy="281.0" r="2.5" fill="#1AB3B8" fill-opacity="0.45" stroke="#1AB3B8" stroke-opacity="0.6" stroke-width="1.0"/>
<circle cx="429.9" cy="286.2" r="2.5" fill="#1AB3B8" fill-opacity="0.45" stroke="#1AB3B8" stroke-opacity="0.6" stroke-width="1.0"/>
<circle cx="436.3" cy="288.9" r="2.5" fill="#1AB3B8" fill-opacity="0.45" stroke="#1AB3B8" stroke-opacity="0.6" stroke-width="1.0"/>
<circle cx="450.7" cy="288.4" r="2.5" fill="#1AB3B8" fill-opacity="0.45" stroke="#1AB3B8" stroke-opacity="0.6" stroke-width="1.0"/>
<circle cx="427.6" cy="290.4" r="2.5" fill="#EE6466" fill-opacity="0.45" stroke="#EE6466" stroke-opacity="0.6" stroke-width="1.0"/>
<circle cx="429.9" cy="291.9" r="2.5" fill="#EE6466" fill-opacity="0.45" stroke="#EE6466" stroke-opacity="0.6" stroke-width="1.0"/>
<circle cx="438.3" cy="294.8" r="2.5" fill="#EE6466" fill-opacity="0.45" stroke="#EE6466" stroke-opacity="0.6" stroke-width="1.0"/>
<circle cx="450.4" cy="312.2" r="2.5" fill="#1AB3B8" fill-opacity="0.45" stroke="#1AB3B8" stroke-opacity="0.6" stroke-width="1.0"/>
<circle cx="485.5" cy="164.5" r="2.5" fill="#1AB3B8" fill-opacity="0.45" stroke="#1AB3B8" stroke-opacity="0.6" stroke-width="1.0"/>
<circle cx="494.1" cy="163.9" r="2.5" fill="#1AB3B8" fill-opacity="0.45" stroke="#1AB3B8" stroke-opacity="0.6" stroke-width="1.0"/>
<circle cx="495.6" cy="171.4" r="2.5" fill="#EE6466" fill-opacity="0.45" stroke="#EE6466" stroke-opacity="0.6" stroke-width="1.0"/>
<circle cx="512.7" cy="170.3" r="2.5" fill="#EE6466" fill-opacity="0.45" stroke="#EE6466" stroke-opacity="0.6" stroke-width="1.0"/>
<circle cx="512.7" cy="172.9" r="2.5" fill="#EE6466" fill-opacity="0.45" stroke="#EE6466" stroke-opacity="0.6" stroke-width="1.0"/>
<circle cx="494.1" cy="191.1" r="2.5" fill="#1AB3B8" fill-opacity="0.45" stroke="#1AB3B8" stroke-opacity="0.6" stroke-width="1.0"/>
<circle cx="495.6" cy="192.6" r="2.5" fill="#1AB3B8" fill-opacity="0.45" stroke="#1AB3B8" stroke-opacity="0.6" stroke-width="1.0"/>
<circle cx="510.5" cy="192.6" r="2.5" fill="#EE6466" fill-opacity="0.45" stroke="#EE6466" stroke-opacity="0.6" stroke-width="1.0"/>
<circle cx="540.9" cy="190.4" r="2.5" fill="#EE6466" fill-opacity="0.45" stroke="#EE6466" stroke-opacity="0.6" stroke-width="1.0"/>
<circle cx="533.5" cy="193.7" r="2.5" fill="#EE6466" fill-opacity="0.45" stroke="#EE6466" stroke-opacity="0.6" stroke-width="1.0"/>
<circle cx="485.9" cy="199.1" r="2.5" fill="#EE6466" fill-opacity="0.45" stroke="#EE6466" stroke-opacity="0.6" stroke-width="1.0"/>
<circle cx="495.6" cy="201.6" r="2.5" fill="#1AB3B8" fill-opacity="0.45" stroke="#1AB3B8" stroke-opacity="0.6" stroke-width="1.0"/>
<circle cx="513.4" cy="197.6" r="2.5" fill="#EE6466" fill-opacity="0.45" stroke="#EE6466" stroke-opacity="0.6" stroke-width="1.0"/>
<circle cx="513.0" cy="202.5" r="2.5" fill="#EE6466" fill-opacity="0.45" stroke="#EE6466" stroke-opacity="0.6" stroke-width="1.0"/>
<circle cx="517.2" cy="202.8" r="2.5" fill="#1AB3B8" fill-opacity="0.45" stroke="#1AB3B8" stroke-opacity="0.6" stroke-width="1.0"/>
<circle cx="527.6" cy="196.9" r="2.5" fill="#EE6466" fill-opacity="0.45" stroke="#EE6466" stroke-opacity="0.6" stroke-width="1.0"/>
<circle cx="536.5" cy="195.7" r="2.5" fill="#1AB3B8" fill-opacity="0.45" stroke="#1AB3B8" stroke-opacity="0.6" stroke-width="1.0"/>
<circle cx="540.9" cy="198.7" r="2.5" fill="#1AB3B8" fill-opacity="0.45" stroke="#1AB3B8" stroke-opacity="0.6" stroke-width="1.0"/>
<circle cx="535.7" cy="205.1" r="2.5" fill="#1AB3B8" fill-opacity="0.45" stroke="#1AB3B8" stroke-opacity="0.6" stroke-width="1.0"/>
<circle cx="541.7" cy="203.6" r="2.5" fill="#EE6466" fill-opacity="0.45" stroke="#EE6466" stroke-opacity="0.6" stroke-width="1.0"/>
<circle cx="540.9" cy="208.0" r="2.5" fill="#1AB3B8" fill-opacity="0.45" stroke="#1AB3B8" stroke-opacity="0.6" stroke-width="1.0"/>
<circle cx="485.9" cy="208.8" r="2.5" fill="#EE6466" fill-opacity="0.45" stroke="#EE6466" stroke-opacity="0.6" stroke-width="1.0"/>
<circle cx="496.6" cy="211.7" r="2.5" fill="#EE6466" fill-opacity="0.45" stroke="#EE6466" stroke-opacity="0.6" stroke-width="1.0"/>
<circle cx="503.8" cy="209.1" r="2.5" fill="#EE6466" fill-opacity="0.45" stroke="#EE6466" stroke-opacity="0.6" stroke-width="1.0"/>
<circle cx="508.2" cy="212.5" r="2.5" fill="#1AB3B8" fill-opacity="0.45" stroke="#1AB3B8" stroke-opacity="0.6" stroke-width="1.0"/>
<circle cx="511.2" cy="211.0" r="2.5" fill="#1AB3B8" fill-opacity="0.45" stroke="#1AB3B8" stroke-opacity="0.6" stroke-width="1.0"/>
<circle cx="516.4" cy="213.2" r="2.5" fill="#1AB3B8" fill-opacity="0.45" stroke="#1AB3B8" stroke-opacity="0.6" stroke-width="1.0"/>
<circle cx="527.6" cy="213.2" r="2.5" fill="#1AB3B8" fill-opacity="0.45" stroke="#1AB3B8" stroke-opacity="0.6" stroke-width="1.0"/>
<circle cx="528.3" cy="216.2" r="2.5" fill="#EE6466" fill-opacity="0.45" stroke="#EE6466" stroke-opacity="0.6" stroke-width="1.0"/>
<circle cx="535.0" cy="216.5" r="2.5" fill="#EE6466" fill-opacity="0.45" stroke="#EE6466" stroke-opacity="0.6" stroke-width="1.0"/>
<circle cx="545.4" cy="213.2" r="2.5" fill="#EE6466" fill-opacity="0.45" stroke="#EE6466" stroke-opacity="0.6" stroke-width="1.0"/>
<circle cx="543.9" cy="215.5" r="2.5" fill="#EE6466" fill-opacity="0.45" stroke="#EE6466" stroke-opacity="0.6" stroke-width="1.0"/>
<circle cx="530.5" cy="218.9" r="2.5" fill="#1AB3B8" fill-opacity="0.45" stroke="#1AB3B8" stroke-opacity="0.6" stroke-width="1.0"/>
<circle cx="496.6" cy="218.9" r="2.5" fill="#EE6466" fill-opacity="0.45" stroke="#EE6466" stroke-opacity="0.6" stroke-width="1.0"/>
<circle cx="515.7" cy="218.9" r="2.5" fill="#EE6466" fill-opacity="0.45" stroke="#EE6466" stroke-opacity="0.6" stroke-width="1.0"/>
<circle cx="509.0" cy="220.7" r="2.5" fill="#EE6466" fill-opacity="0.45" stroke="#EE6466" stroke-opacity="0.6" stroke-width="1.0"/>
<circle cx="520.1" cy="221.4" r="2.5" fill="#1AB3B8" fill-opacity="0.45" stroke="#1AB3B8" stroke-opacity="0.6" stroke-width="1.0"/>
<circle cx="543.9" cy="222.2" r="2.5" fill="#1AB3B8" fill-opacity="0.45" stroke="#1AB3B8" stroke-opacity="0.6" stroke-width="1.0"/>
<circle cx="533.5" cy="223.3" r="2.5" fill="#EE6466" fill-opacity="0.45" stroke="#EE6466" stroke-opacity="0.6" stroke-width="1.0"/>
<circle cx="481.5" cy="231.1" r="2.5" fill="#1AB3B8" fill-opacity="0.45" stroke="#1AB3B8" stroke-opacity="0.6" stroke-width="1.0"/>
<circle cx="481.5" cy="234.8" r="2.5" fill="#1AB3B8" fill-opacity="0.45" stroke="#1AB3B8" stroke-opacity="0.6" stroke-width="1.0"/>
<circle cx="492.6" cy="230.3" r="2.5" fill="#EE6466" fill-opacity="0.45" stroke="#EE6466" stroke-opacity="0.6" stroke-width="1.0"/>
<circle cx="496.3" cy="230.3" r="2.5" fill="#EE6466" fill-opacity="0.45" stroke="#EE6466" stroke-opacity="0.6" stroke-width="1.0"/>
<circle cx="504.5" cy="231.1" r="2.5" fill="#EE6466" fill-opacity="0.45" stroke="#EE6466" stroke-opacity="0.6" stroke-width="1.0"/>
<circle cx="500.8" cy="235.2" r="2.5" fill="#EE6466" fill-opacity="0.45" stroke="#EE6466" stroke-opacity="0.6" stroke-width="1.0"/>
<circle cx="515.7" cy="230.3" r="2.5" fill="#1AB3B8" fill-opacity="0.45" stroke="#1AB3B8" stroke-opacity="0.6" stroke-width="1.0"/>
<circle cx="517.2" cy="233.3" r="2.5" fill="#1AB3B8" fill-opacity="0.45" stroke="#1AB3B8" stroke-opacity="0.6" stroke-width="1.0"/>
<circle cx="520.9" cy="234.0" r="2.5" fill="#EE6466" fill-opacity="0.45" stroke="#EE6466" stroke-opacity="0.6" stroke-width="1.0"/>
<circle cx="524.6" cy="231.1" r="2.5" fill="#EE6466" fill-opacity="0.45" stroke="#EE6466" stroke-opacity="0.6" stroke-width="1.0"/>
<circle cx="533.5" cy="231.8" r="2.5" fill="#1AB3B8" fill-opacity="0.45" stroke="#1AB3B8" stroke-opacity="0.6" stroke-width="1.0"/>
<circle cx="543.9" cy="236.3" r="2.5" fill="#1AB3B8" fill-opacity="0.45" stroke="#1AB3B8" stroke-opacity="0.6" stroke-width="1.0"/>
<circle cx="530.5" cy="238.5" r="2.5" fill="#1AB3B8" fill-opacity="0.45" stroke="#1AB3B8" stroke-opacity="0.6" stroke-width="1.0"/>
<circle cx="515.7" cy="239.2" r="2.5" fill="#EE6466" fill-opacity="0.45" stroke="#EE6466" stroke-opacity="0.6" stroke-width="1.0"/>
<circle cx="515.7" cy="242.2" r="2.5" fill="#EE6466" fill-opacity="0.45" stroke="#EE6466" stroke-opacity="0.6" stroke-width="1.0"/>
<circle cx="517.2" cy="244.4" r="2.5" fill="#EE6466" fill-opacity="0.45" stroke="#EE6466" stroke-opacity="0.6" stroke-width="1.0"/>
<circle cx="492.6" cy="242.2" r="2.5" fill="#EE6466" fill-opacity="0.45" stroke="#EE6466" stroke-opacity="0.6" stroke-width="1.0"/>
<circle cx="503.0" cy="252.9" r="2.5" fill="#1AB3B8" fill-opacity="0.45" stroke="#1AB3B8" stroke-opacity="0.6" stroke-width="1.0"/>
<circle cx="517.2" cy="258.5" r="2.5" fill="#EE6466" fill-opacity="0.45" stroke="#EE6466" stroke-opacity="0.6" stroke-width="1.0"/>
<circle cx="530.5" cy="259.7" r="2.5" fill="#1AB3B8" fill-opacity="0.45" stroke="#1AB3B8" stroke-opacity="0.6" stroke-width="1.0"/>
<circle cx="517.2" cy="267.8" r="2.5" fill="#EE6466" fill-opacity="0.45" stroke="#EE6466" stroke-opacity="0.6" stroke-width="1.0"/>
<circle cx="530.5" cy="266.6" r="2.5" fill="#EE6466" fill-opacity="0.45" stroke="#EE6466" stroke-opacity="0.6" stroke-width="1.0"/>
<circle cx="492.6" cy="277.5" r="2.5" fill="#EE6466" fill-opacity="0.45" stroke="#EE6466" stroke-opacity="0.6" stroke-width="1.0"/>
<circle cx="497.8" cy="279.7" r="2.5" fill="#EE6466" fill-opacity="0.45" stroke="#EE6466" stroke-opacity="0.6" stroke-width="1.0"/>
<circle cx="503.0" cy="277.5" r="2.5" fill="#1AB3B8" fill-opacity="0.45" stroke="#1AB3B8" stroke-opacity="0.6" stroke-width="1.0"/>
<circle cx="497.8" cy="283.4" r="2.5" fill="#EE6466" fill-opacity="0.45" stroke="#EE6466" stroke-opacity="0.6" stroke-width="1.0"/>
<circle cx="530.5" cy="283.4" r="2.5" fill="#EE6466" fill-opacity="0.45" stroke="#EE6466" stroke-opacity="0.6" stroke-width="1.0"/>
<circle cx="497.8" cy="333.6" r="2.5" fill="#1AB3B8" fill-opacity="0.45" stroke="#1AB3B8" stroke-opacity="0.6" stroke-width="1.0"/>
<circle cx="546.8" cy="196.8" r="2.5" fill="#EE6466" fill-opacity="0.45" stroke="#EE6466" stroke-opacity="0.6" stroke-width="1.0"/>
<circle cx="546.8" cy="203.8" r="2.5" fill="#EE6466" fill-opacity="0.45" stroke="#EE6466" stroke-opacity="0.6" stroke-width="1.0"/>
<circle cx="551.7" cy="205.3" r="2.5" fill="#EE6466" fill-opacity="0.45" stroke="#EE6466" stroke-opacity="0.6" stroke-width="1.0"/>
<circle cx="553.2" cy="206.8" r="2.5" fill="#EE6466" fill-opacity="0.45" stroke="#EE6466" stroke-opacity="0.6" stroke-width="1.0"/>
<circle cx="559.9" cy="205.0" r="2.5" fill="#EE6466" fill-opacity="0.45" stroke="#EE6466" stroke-opacity="0.6" stroke-width="1.0"/>
<circle cx="559.9" cy="206.8" r="2.5" fill="#1AB3B8" fill-opacity="0.45" stroke="#1AB3B8" stroke-opacity="0.6" stroke-width="1.0"/>
<circle cx="553.6" cy="212.1" r="2.5" fill="#1AB3B8" fill-opacity="0.45" stroke="#1AB3B8" stroke-opacity="0.6" stroke-width="1.0"/>
<circle cx="546.8" cy="211.2" r="2.5" fill="#EE6466" fill-opacity="0.45" stroke="#EE6466" stroke-opacity="0.6" stroke-width="1.0"/>
<circle cx="561.3" cy="211.7" r="2.5" fill="#EE6466" fill-opacity="0.45" stroke="#EE6466" stroke-opacity="0.6" stroke-width="1.0"/>
<circle cx="564.3" cy="212.4" r="2.5" fill="#EE6466" fill-opacity="0.45" stroke="#EE6466" stroke-opacity="0.6" stroke-width="1.0"/>
<circle cx="565.1" cy="215.4" r="2.5" fill="#EE6466" fill-opacity="0.45" stroke="#EE6466" stroke-opacity="0.6" stroke-width="1.0"/>
<circle cx="577.4" cy="211.7" r="2.5" fill="#1AB3B8" fill-opacity="0.45" stroke="#1AB3B8" stroke-opacity="0.6" stroke-width="1.0"/>
<circle cx="579.5" cy="218.1" r="2.5" fill="#EE6466" fill-opacity="0.45" stroke="#EE6466" stroke-opacity="0.6" stroke-width="1.0"/>
<circle cx="559.9" cy="217.6" r="2.5" fill="#1AB3B8" fill-opacity="0.45" stroke="#1AB3B8" stroke-opacity="0.6" stroke-width="1.0"/>
<circle cx="546.8" cy="218.2" r="2.5" fill="#1AB3B8" fill-opacity="0.45" stroke="#1AB3B8" stroke-opacity="0.6" stroke-width="1.0"/>
<circle cx="550.9" cy="223.4" r="2.5" fill="#1AB3B8" fill-opacity="0.45" stroke="#1AB3B8" stroke-opacity="0.6" stroke-width="1.0"/>
<circle cx="558.1" cy="221.9" r="2.5" fill="#1AB3B8" fill-opacity="0.45" stroke="#1AB3B8" stroke-opacity="0.6" stroke-width="1.0"/>
<circle cx="557.6" cy="221.1" r="2.5" fill="#EE6466" fill-opacity="0.45" stroke="#EE6466" stroke-opacity="0.6" stroke-width="1.0"/>
<circle cx="562.8" cy="224.1" r="2.5" fill="#1AB3B8" fill-opacity="0.45" stroke="#1AB3B8" stroke-opacity="0.6" stroke-width="1.0"/>
<circle cx="564.3" cy="218.9" r="2.5" fill="#EE6466" fill-opacity="0.45" stroke="#EE6466" stroke-opacity="0.6" stroke-width="1.0"/>
<circle cx="565.8" cy="224.1" r="2.5" fill="#1AB3B8" fill-opacity="0.45" stroke="#1AB3B8" stroke-opacity="0.6" stroke-width="1.0"/>
<circle cx="579.2" cy="223.7" r="2.5" fill="#1AB3B8" fill-opacity="0.45" stroke="#1AB3B8" stroke-opacity="0.6" stroke-width="1.0"/>
<circle cx="571.7" cy="226.1" r="2.5" fill="#EE6466" fill-opacity="0.45" stroke="#EE6466" stroke-opacity="0.6" stroke-width="1.0"/>
<circle cx="588.3" cy="222.8" r="2.5" fill="#1AB3B8" fill-opacity="0.45" stroke="#1AB3B8" stroke-opacity="0.6" stroke-width="1.0"/>
<circle cx="596.0" cy="225.5" r="2.5" fill="#1AB3B8" fill-opacity="0.45" stroke="#1AB3B8" stroke-opacity="0.6" stroke-width="1.0"/>
<circle cx="605.1" cy="222.5" r="2.5" fill="#1AB3B8" fill-opacity="0.45" stroke="#1AB3B8" stroke-opacity="0.6" stroke-width="1.0"/>
<circle cx="605.1" cy="224.8" r="2.5" fill="#1AB3B8" fill-opacity="0.45" stroke="#1AB3B8" stroke-opacity="0.6" stroke-width="1.0"/>
<circle cx="605.1" cy="230.3" r="2.5" fill="#1AB3B8" fill-opacity="0.45" stroke="#1AB3B8" stroke-opacity="0.6" stroke-width="1.0"/>
<circle cx="595.9" cy="229.6" r="2.5" fill="#EE6466" fill-opacity="0.45" stroke="#EE6466" stroke-opacity="0.6" stroke-width="1.0"/>
<circle cx="553.9" cy="233.0" r="2.5" fill="#EE6466" fill-opacity="0.45" stroke="#EE6466" stroke-opacity="0.6" stroke-width="1.0"/>
<circle cx="559.1" cy="235.6" r="2.5" fill="#EE6466" fill-opacity="0.45" stroke="#EE6466" stroke-opacity="0.6" stroke-width="1.0"/>
<circle cx="565.8" cy="235.0" r="2.5" fill="#1AB3B8" fill-opacity="0.45" stroke="#1AB3B8" stroke-opacity="0.6" stroke-width="1.0"/>
<circle cx="567.3" cy="238.2" r="2.5" fill="#EE6466" fill-opacity="0.45" stroke="#EE6466" stroke-opacity="0.6" stroke-width="1.0"/>
<circle cx="567.3" cy="241.2" r="2.5" fill="#1AB3B8" fill-opacity="0.45" stroke="#1AB3B8" stroke-opacity="0.6" stroke-width="1.0"/>
<circle cx="577.4" cy="239.7" r="2.5" fill="#1AB3B8" fill-opacity="0.45" stroke="#1AB3B8" stroke-opacity="0.6" stroke-width="1.0"/>
<circle cx="596.0" cy="239.5" r="2.5" fill="#1AB3B8" fill-opacity="0.45" stroke="#1AB3B8" stroke-opacity="0.6" stroke-width="1.0"/>
<circle cx="551.7" cy="247.4" r="2.5" fill="#1AB3B8" fill-opacity="0.45" stroke="#1AB3B8" stroke-opacity="0.6" stroke-width="1.0"/>
<circle cx="557.2" cy="246.9" r="2.5" fill="#EE6466" fill-opacity="0.45" stroke="#EE6466" stroke-opacity="0.6" stroke-width="1.0"/>
<circle cx="565.8" cy="247.2" r="2.5" fill="#EE6466" fill-opacity="0.45" stroke="#EE6466" stroke-opacity="0.6" stroke-width="1.0"/>
<circle cx="572.0" cy="248.3" r="2.5" fill="#1AB3B8" fill-opacity="0.45" stroke="#1AB3B8" stroke-opacity="0.6" stroke-width="1.0"/>
<circle cx="580.7" cy="250.4" r="2.5" fill="#EE6466" fill-opacity="0.45" stroke="#EE6466" stroke-opacity="0.6" stroke-width="1.0"/>
<circle cx="581.9" cy="255.3" r="2.5" fill="#EE6466" fill-opacity="0.45" stroke="#EE6466" stroke-opacity="0.6" stroke-width="1.0"/>
<circle cx="565.8" cy="256.8" r="2.5" fill="#EE6466" fill-opacity="0.45" stroke="#EE6466" stroke-opacity="0.6" stroke-width="1.0"/>
<circle cx="562.5" cy="260.5" r="2.5" fill="#1AB3B8" fill-opacity="0.45" stroke="#1AB3B8" stroke-opacity="0.6" stroke-width="1.0"/>
<circle cx="562.4" cy="260.6" r="2.5" fill="#1AB3B8" fill-opacity="0.45" stroke="#1AB3B8" stroke-opacity="0.6" stroke-width="1.0"/>
<circle cx="577.3" cy="259.1" r="2.5" fill="#1AB3B8" fill-opacity="0.45" stroke="#1AB3B8" stroke-opacity="0.6" stroke-width="1.0"/>
<circle cx="556.1" cy="262.3" r="2.5" fill="#1AB3B8" fill-opacity="0.45" stroke="#1AB3B8" stroke-opacity="0.6" stroke-width="1.0"/>
<circle cx="577.4" cy="258.7" r="2.5" fill="#1AB3B8" fill-opacity="0.45" stroke="#1AB3B8" stroke-opacity="0.6" stroke-width="1.0"/>
<circle cx="580.7" cy="265.7" r="2.5" fill="#1AB3B8" fill-opacity="0.45" stroke="#1AB3B8" stroke-opacity="0.6" stroke-width="1.0"/>
<circle cx="577.4" cy="270.9" r="2.5" fill="#EE6466" fill-opacity="0.45" stroke="#EE6466" stroke-opacity="0.6" stroke-width="1.0"/>
<circle cx="580.7" cy="275.6" r="2.5" fill="#EE6466" fill-opacity="0.45" stroke="#EE6466" stroke-opacity="0.6" stroke-width="1.0"/>
<circle cx="581.9" cy="279.2" r="2.5" fill="#1AB3B8" fill-opacity="0.45" stroke="#1AB3B8" stroke-opacity="0.6" stroke-width="1.0"/>
<circle cx="576.3" cy="296.5" r="2.5" fill="#EE6466" fill-opacity="0.45" stroke="#EE6466" stroke-opacity="0.6" stroke-width="1.0"/>
<circle cx="576.3" cy="311.8" r="2.5" fill="#EE6466" fill-opacity="0.45" stroke="#EE6466" stroke-opacity="0.6" stroke-width="1.0"/>
<circle cx="581.6" cy="323.1" r="2.5" fill="#1AB3B8" fill-opacity="0.45" stroke="#1AB3B8" stroke-opacity="0.6" stroke-width="1.0"/>
<line x1="114.70" x2="114.70" y1="433.1" y2="42.2" stroke="#222" stroke-width="1.9" stroke-dasharray="5.885 5.885"/>
<line x1="197.75" x2="197.75" y1="433.1" y2="42.2" stroke="#222" stroke-width="1.9" stroke-dasharray="5.885 5.885"/>
<line x1="280.80" x2="280.80" y1="433.1" y2="42.2" stroke="#222" stroke-width="1.9" stroke-dasharray="5.885 5.885"/>
<line x1="363.85" x2="363.85" y1="433.1" y2="42.2" stroke="#222" stroke-width="1.9" stroke-dasharray="5.885 5.885"/>
<line x1="446.90" x2="446.90" y1="433.1" y2="42.2" stroke="#222" stroke-width="1.9" stroke-dasharray="5.885 5.885"/>
<line x1="529.95" x2="529.95" y1="433.1" y2="42.2" stroke="#222" stroke-width="1.9" stroke-dasharray="5.885 5.885"/>
<line x1="613.00" x2="613.00" y1="433.1" y2="42.2" stroke="#222" stroke-width="1.9" stroke-dasharray="5.885 5.885"/>
<line x1="114.70" y1="165.5" x2="613.00" y2="237.7" stroke="#F2716A" stroke-width="3.4"/>
<line x1="114.70" y1="189.7" x2="613.00" y2="234.2" stroke="#0AB6BB" stroke-width="3.4"/>
<rect x="77.83" y="360.65" width="73.75" height="20.7" rx="3.2" ry="3.2" fill="#fff" stroke="#333" stroke-width="1.0"/>
<text transform="translate(82.81 376.60) scale(1 1.05)" font-size="15.0" fill="#000" color="#000" style="stroke-width:0.0px">p = 0.006</text>
<rect x="160.88" y="360.65" width="73.75" height="20.7" rx="3.2" ry="3.2" fill="#fff" stroke="#333" stroke-width="1.0"/>
<text transform="translate(165.86 376.60) scale(1 1.05)" font-size="15.0" fill="#000" color="#000" style="stroke-width:0.0px">p = 0.004</text>
<rect x="243.93" y="360.65" width="73.75" height="20.7" rx="3.2" ry="3.2" fill="#fff" stroke="#333" stroke-width="1.0"/>
<text transform="translate(248.91 376.60) scale(1 1.05)" font-size="15.0" fill="#000" color="#000" style="stroke-width:0.0px">p = 0.003</text>
<rect x="326.98" y="360.65" width="73.75" height="20.7" rx="3.2" ry="3.2" fill="#fff" stroke="#333" stroke-width="1.0"/>
<text transform="translate(331.96 376.60) scale(1 1.05)" font-size="15.0" fill="#000" color="#000" style="stroke-width:0.0px">p = 0.003</text>
<rect x="410.02" y="360.65" width="73.75" height="20.7" rx="3.2" ry="3.2" fill="#fff" stroke="#333" stroke-width="1.0"/>
<text transform="translate(415.01 376.60) scale(1 1.05)" font-size="15.0" fill="#000" color="#000" style="stroke-width:0.0px">p = 0.05</text>
<path transform="translate(469.645 376.6) scale(0.007324 -0.007690)" d="M763 0H583V1098Q518 1038 412 979T222 890V1057Q372 1125 484 1221T644 1409H763Z" fill="#000" stroke="#000" stroke-width="0.0"/>
<rect x="493.08" y="360.65" width="73.75" height="20.7" rx="3.2" ry="3.2" fill="#fff" stroke="#333" stroke-width="1.0"/>
<text transform="translate(498.06 376.60) scale(1 1.05)" font-size="15.0" fill="#000" color="#000" style="stroke-width:0.0px">p = 0.827</text>
<rect x="576.12" y="360.65" width="73.75" height="20.7" rx="3.2" ry="3.2" fill="#fff" stroke="#333" stroke-width="1.0"/>
<text transform="translate(581.11 376.60) scale(1 1.05)" font-size="15.0" fill="#000" color="#000" style="stroke-width:0.0px">p = 0.44</text>
<path transform="translate(635.745 376.6) scale(0.007324 -0.007690)" d="M763 0H583V1098Q518 1038 412 979T222 890V1057Q372 1125 484 1221T644 1409H763Z" fill="#000" stroke="#000" stroke-width="0.0"/>
<rect x="44.6" y="42.2" width="638.50" height="390.90" fill="none" stroke="#6a6a6a" stroke-width="1.5"/>
<line x1="40.4" x2="44.6" y1="342.40" y2="342.40" stroke="#333" stroke-width="1.07"/>
<text transform="translate(36.90 346.60) scale(1 1.05)" font-size="12" text-anchor="end" fill="#4D4D4D" color="#4D4D4D" style="stroke-width:0.05px">-20</text>
<line x1="40.4" x2="44.6" y1="227.85" y2="227.85" stroke="#333" stroke-width="1.07"/>
<text transform="translate(36.90 232.05) scale(1 1.05)" font-size="12" text-anchor="end" fill="#4D4D4D" color="#4D4D4D" style="stroke-width:0.05px">0</text>
<line x1="40.4" x2="44.6" y1="113.30" y2="113.30" stroke="#333" stroke-width="1.07"/>
<text transform="translate(36.90 117.50) scale(1 1.05)" font-size="12" text-anchor="end" fill="#4D4D4D" color="#4D4D4D" style="stroke-width:0.05px">20</text>
<line x1="197.75" x2="197.75" y1="433.1" y2="436.7" stroke="#333" stroke-width="1.07"/>
<text transform="translate(197.75 449.00) scale(1 1.05)" font-size="12" text-anchor="middle" fill="#4D4D4D" color="#4D4D4D" style="stroke-width:0.05px">50</text>
<line x1="363.85" x2="363.85" y1="433.1" y2="436.7" stroke="#333" stroke-width="1.07"/>
<text transform="translate(363.85 449.00) scale(1 1.05)" font-size="12" text-anchor="middle" fill="#4D4D4D" color="#4D4D4D" style="stroke-width:0.05px">70</text>
<line x1="529.95" x2="529.95" y1="433.1" y2="436.7" stroke="#333" stroke-width="1.07"/>
<text transform="translate(529.95 449.00) scale(1 1.05)" font-size="12" text-anchor="middle" fill="#4D4D4D" color="#4D4D4D" style="stroke-width:0.05px">90</text>
<text transform="translate(363.60 466.30) scale(1 1.05)" font-size="15.2" text-anchor="middle" fill="#000" color="#000">Baseline VFQ-25 (Composite)</text>
<text transform="translate(12.30 237.90) rotate(-90) scale(1 1.05)" font-size="15.2" text-anchor="middle" fill="#000" color="#000">Change in VFQ-25 (Composite)</text>
<text transform="translate(237.20 12.80) scale(1 1.05)" font-size="15.2" fill="#000" color="#000">Treatment</text>
<line x1="316.1" x2="335.4" y1="6.9" y2="6.9" stroke="#F2716A" stroke-width="3.6"/>
<circle cx="325.7" cy="6.9" r="2.5" fill="#EE6466" fill-opacity="0.45" stroke="#EE6466" stroke-opacity="0.6" stroke-width="1.0"/>
<text transform="translate(342.50 10.20) scale(1 1.05)" font-size="13.2" fill="#000" color="#000">Citicoline oral solution</text>
<line x1="482.9" x2="501.9" y1="6.9" y2="6.9" stroke="#0AB6BB" stroke-width="3.6"/>
<circle cx="492.4" cy="6.9" r="2.5" fill="#1AB3B8" fill-opacity="0.45" stroke="#1AB3B8" stroke-opacity="0.6" stroke-width="1.0"/>
<text transform="translate(508.90 10.20) scale(1 1.05)" font-size="13.4" fill="#000" color="#000">Placebo</text>
</g></svg></body></html>
